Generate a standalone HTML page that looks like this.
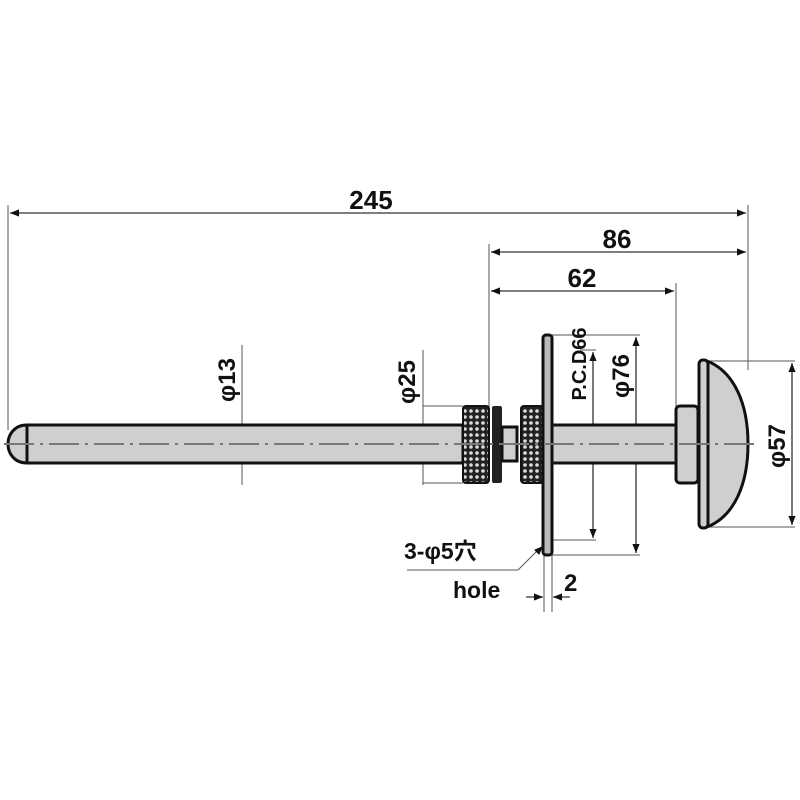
<!DOCTYPE html>
<html><head><meta charset="utf-8"><style>
html,body{margin:0;padding:0;background:#fff}
svg{display:block}
text{font-family:"Liberation Sans","Noto Sans CJK JP",sans-serif;font-weight:bold;fill:#111}
</style></head><body>
<svg width="800" height="800" viewBox="0 0 800 800" xmlns="http://www.w3.org/2000/svg">
<defs>
<pattern id="kn" width="6" height="6" patternUnits="userSpaceOnUse">
<rect width="6" height="6" fill="#222"/><circle cx="3" cy="3" r="1.8" fill="#ddd"/>
</pattern>
<marker id="a" viewBox="0 0 10 10" refX="10" refY="5" markerWidth="7" markerHeight="7" orient="auto-start-reverse"><path d="M0,1 L10,5 L0,9 z" fill="#111"/></marker>
</defs>
<g stroke="#555" stroke-width="1" fill="none">
<line x1="8" y1="205" x2="8" y2="430"/>
<line x1="748" y1="205" x2="748" y2="370"/>
<line x1="489" y1="244" x2="489" y2="410"/>
<line x1="676" y1="283" x2="676" y2="410"/>
<line x1="242" y1="345" x2="242" y2="485"/>
<line x1="423" y1="350" x2="423" y2="485"/>
<line x1="423" y1="406" x2="463" y2="406"/>
<line x1="423" y1="483" x2="463" y2="483"/>
<line x1="707" y1="361" x2="795" y2="361"/>
<line x1="707" y1="527" x2="795" y2="527"/>
<line x1="552" y1="335" x2="640" y2="335"/>
<line x1="552" y1="555" x2="640" y2="555"/>
<line x1="552" y1="540" x2="596" y2="540"/>
<line x1="580" y1="350" x2="596" y2="350"/>
<line x1="544" y1="555" x2="544" y2="612"/>
<line x1="552" y1="555" x2="552" y2="612"/>
<line x1="407" y1="570" x2="518" y2="570"/>
<line x1="518" y1="570" x2="538" y2="550"/>
</g>
<g stroke="#333" stroke-width="1.3" fill="none">
<line x1="10" y1="213" x2="746" y2="213" marker-start="url(#a)" marker-end="url(#a)"/>
<line x1="491" y1="252" x2="746" y2="252" marker-start="url(#a)" marker-end="url(#a)"/>
<line x1="491" y1="291" x2="674" y2="291" marker-start="url(#a)" marker-end="url(#a)"/>
<line x1="792" y1="363" x2="792" y2="525" marker-start="url(#a)" marker-end="url(#a)"/>
<line x1="636" y1="337" x2="636" y2="553" marker-start="url(#a)" marker-end="url(#a)"/>
<line x1="593" y1="352" x2="593" y2="538" marker-start="url(#a)" marker-end="url(#a)"/>
<line x1="526" y1="597" x2="543" y2="597" marker-end="url(#a)"/>
<line x1="570" y1="597" x2="553" y2="597" marker-end="url(#a)"/>
<line x1="537" y1="552" x2="543" y2="546" marker-end="url(#a)"/>
</g>
<path d="M27,425 L463,425 L463,463 L27,463 Z" fill="#cfcfcf" stroke="#111" stroke-width="3"/>
<path d="M27,425 C14,425 8,435 8,444 C8,453 14,463 27,463 Z" fill="#cfcfcf" stroke="#111" stroke-width="3"/>
<rect x="552" y="425" width="124" height="38" fill="#cfcfcf" stroke="#111" stroke-width="3"/>
<rect x="463" y="406" width="26" height="77" rx="3" fill="url(#kn)" stroke="#111" stroke-width="2"/>
<rect x="492" y="406" width="10" height="77" rx="2" fill="#222"/>
<rect x="502" y="427" width="15" height="34" fill="#cfcfcf" stroke="#111" stroke-width="3"/>
<rect x="521" y="406" width="22" height="77" rx="3" fill="url(#kn)" stroke="#111" stroke-width="2"/>
<rect x="543" y="335" width="9" height="220" rx="3" fill="#bbb" stroke="#111" stroke-width="3"/>
<rect x="676" y="406" width="22" height="77" rx="4" fill="#cfcfcf" stroke="#111" stroke-width="3"/>
<path d="M707,361 C735,372 748,405 748,444 C748,483 735,516 707,527 Z" fill="#cfcfcf" stroke="#111" stroke-width="3"/>
<rect x="699" y="360" width="9" height="168" rx="4" fill="#cfcfcf" stroke="#111" stroke-width="3"/>
<line x1="4" y1="444" x2="760" y2="444" stroke="#777" stroke-width="2" stroke-dasharray="30,6,3,6"/>
<text x="371" y="209" font-size="26" text-anchor="middle">245</text>
<text x="617" y="248" font-size="26" text-anchor="middle">86</text>
<text x="582" y="287" font-size="26" text-anchor="middle">62</text>
<text transform="translate(235,380) rotate(-90)" font-size="24" text-anchor="middle">φ13</text>
<text transform="translate(415,382) rotate(-90)" font-size="24" text-anchor="middle">φ25</text>
<text transform="translate(586,364) rotate(-90)" font-size="20" text-anchor="middle">P.C.D66</text>
<text transform="translate(629,376) rotate(-90)" font-size="24" text-anchor="middle">φ76</text>
<text transform="translate(785,446) rotate(-90)" font-size="24" text-anchor="middle">φ57</text>
<text x="404" y="559" font-size="23">3-φ5穴</text>
<text x="453" y="598" font-size="23">hole</text>
<text x="564" y="591" font-size="24">2</text>
</svg>
</body></html>
